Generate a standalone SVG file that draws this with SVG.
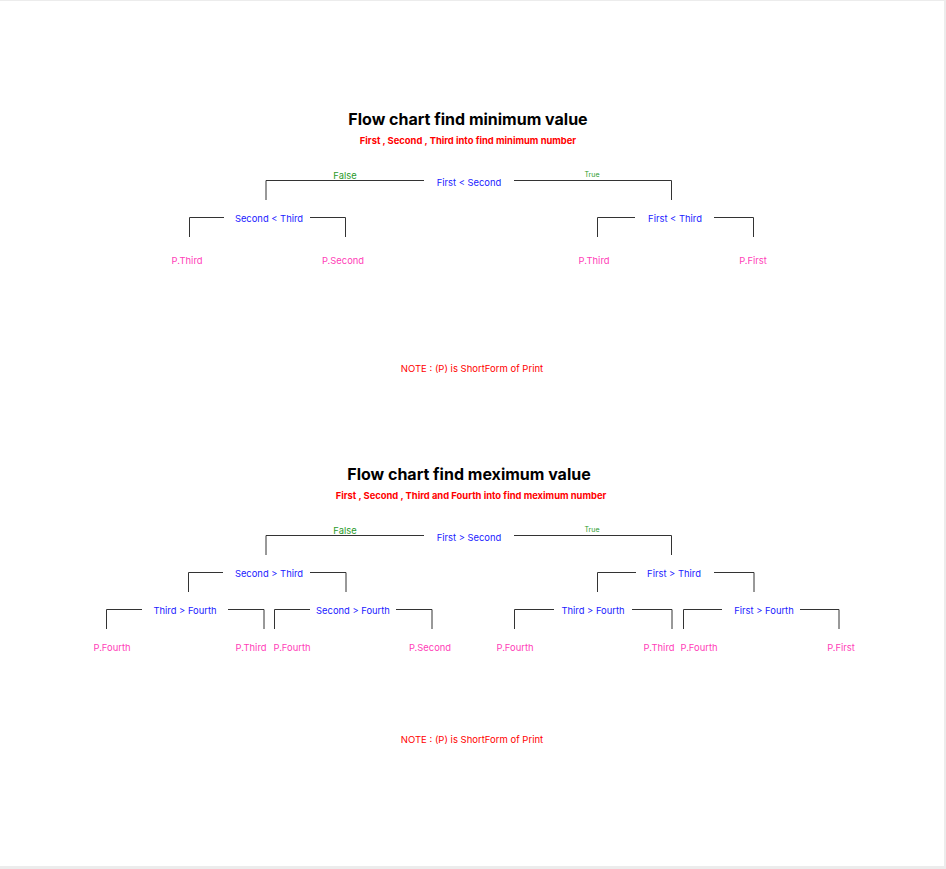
<svg xmlns="http://www.w3.org/2000/svg" width="946" height="869" viewBox="0 0 946 869">
<style>
text{font-family:Inter,"Noto Sans",sans-serif;text-anchor:middle;dominant-baseline:central}
.t{font-size:16px;font-weight:bold;fill:#000}
.s{font-size:9.4px;font-weight:bold;fill:#ff0000}
.c{font-size:9.4px;fill:#1a1aff}
.p{font-size:9.4px;fill:#ff40b8}
.f{font-size:9.4px;fill:#2a9a2a}
.tr{font-size:7px;fill:#2a9a2a}
.n{font-size:9.5px;fill:#ff0000}
.l{fill:none;stroke:#333;stroke-width:1}
</style>
<rect width="946" height="869" fill="#ececec"/>
<rect x="0" y="1" width="944" height="865" fill="#fff"/>
<g id="titles">
<text class="t" x="468" y="119">Flow chart find minimum value</text>
<text class="s" x="468" y="140">First , Second , Third into find minimum number</text>
<text class="n" x="472" y="368">NOTE : (P) is ShortForm of Print</text>
<text class="t" x="469" y="474">Flow chart find meximum value</text>
<text class="s" x="471" y="495">First , Second , Third and Fourth into find meximum number</text>
<text class="n" x="472" y="739">NOTE : (P) is ShortForm of Print</text>
</g>
<g id="connectors">
<path class="l" d="M266 200V180.5H424M514 180.5H671.5V200"/>
<path class="l" d="M189.5 237V217.5H224M310 217.5H345.5V237"/>
<path class="l" d="M597.5 237V217.5H635M714 217.5H753.5V237"/>
<path class="l" d="M266 555V535.5H424M514 535.5H671.5V555"/>
<path class="l" d="M188.5 592V572.5H223M310 572.5H346V592"/>
<path class="l" d="M597.5 592V572.5H636M714 572.5H754V592"/>
<path class="l" d="M106.5 629V609.5H142M228 609.5H264V629"/>
<path class="l" d="M274.5 629V609.5H310M396 609.5H432V629"/>
<path class="l" d="M514.5 629V609.5H554M632 609.5H672V629"/>
<path class="l" d="M683.5 629V609.5H722M800 609.5H839V629"/>
</g>
<g id="labels">
<text class="f" x="345" y="175">False</text>
<text class="tr" x="592" y="174">True</text>
<text class="f" x="345" y="530">False</text>
<text class="tr" x="592" y="529">True</text>
</g>
<g id="n-min-root"><text class="c" x="469" y="182">First &lt; Second</text></g>
<g id="n-min-l"><text class="c" x="269" y="218">Second &lt; Third</text></g>
<g id="n-min-r"><text class="c" x="675" y="218">First &lt; Third</text></g>
<g id="n-min-p1"><text class="p" x="187" y="260">P.Third</text></g>
<g id="n-min-p2"><text class="p" x="343" y="260">P.Second</text></g>
<g id="n-min-p3"><text class="p" x="594" y="260">P.Third</text></g>
<g id="n-min-p4"><text class="p" x="753" y="260">P.First</text></g>
<g id="n-max-root"><text class="c" x="469" y="537">First &gt; Second</text></g>
<g id="n-max-l"><text class="c" x="269" y="573">Second &gt; Third</text></g>
<g id="n-max-r"><text class="c" x="674" y="573">First &gt; Third</text></g>
<g id="n-max-ll"><text class="c" x="185" y="610">Third &gt; Fourth</text></g>
<g id="n-max-lr"><text class="c" x="353" y="610">Second &gt; Fourth</text></g>
<g id="n-max-rl"><text class="c" x="593" y="610">Third &gt; Fourth</text></g>
<g id="n-max-rr"><text class="c" x="764" y="610">First &gt; Fourth</text></g>
<g id="n-max-p1"><text class="p" x="112" y="647">P.Fourth</text></g>
<g id="n-max-p2"><text class="p" x="251" y="647">P.Third</text></g>
<g id="n-max-p3"><text class="p" x="292" y="647">P.Fourth</text></g>
<g id="n-max-p4"><text class="p" x="430" y="647">P.Second</text></g>
<g id="n-max-p5"><text class="p" x="515" y="647">P.Fourth</text></g>
<g id="n-max-p6"><text class="p" x="659" y="647">P.Third</text></g>
<g id="n-max-p7"><text class="p" x="699" y="647">P.Fourth</text></g>
<g id="n-max-p8"><text class="p" x="841" y="647">P.First</text></g>
</svg>
